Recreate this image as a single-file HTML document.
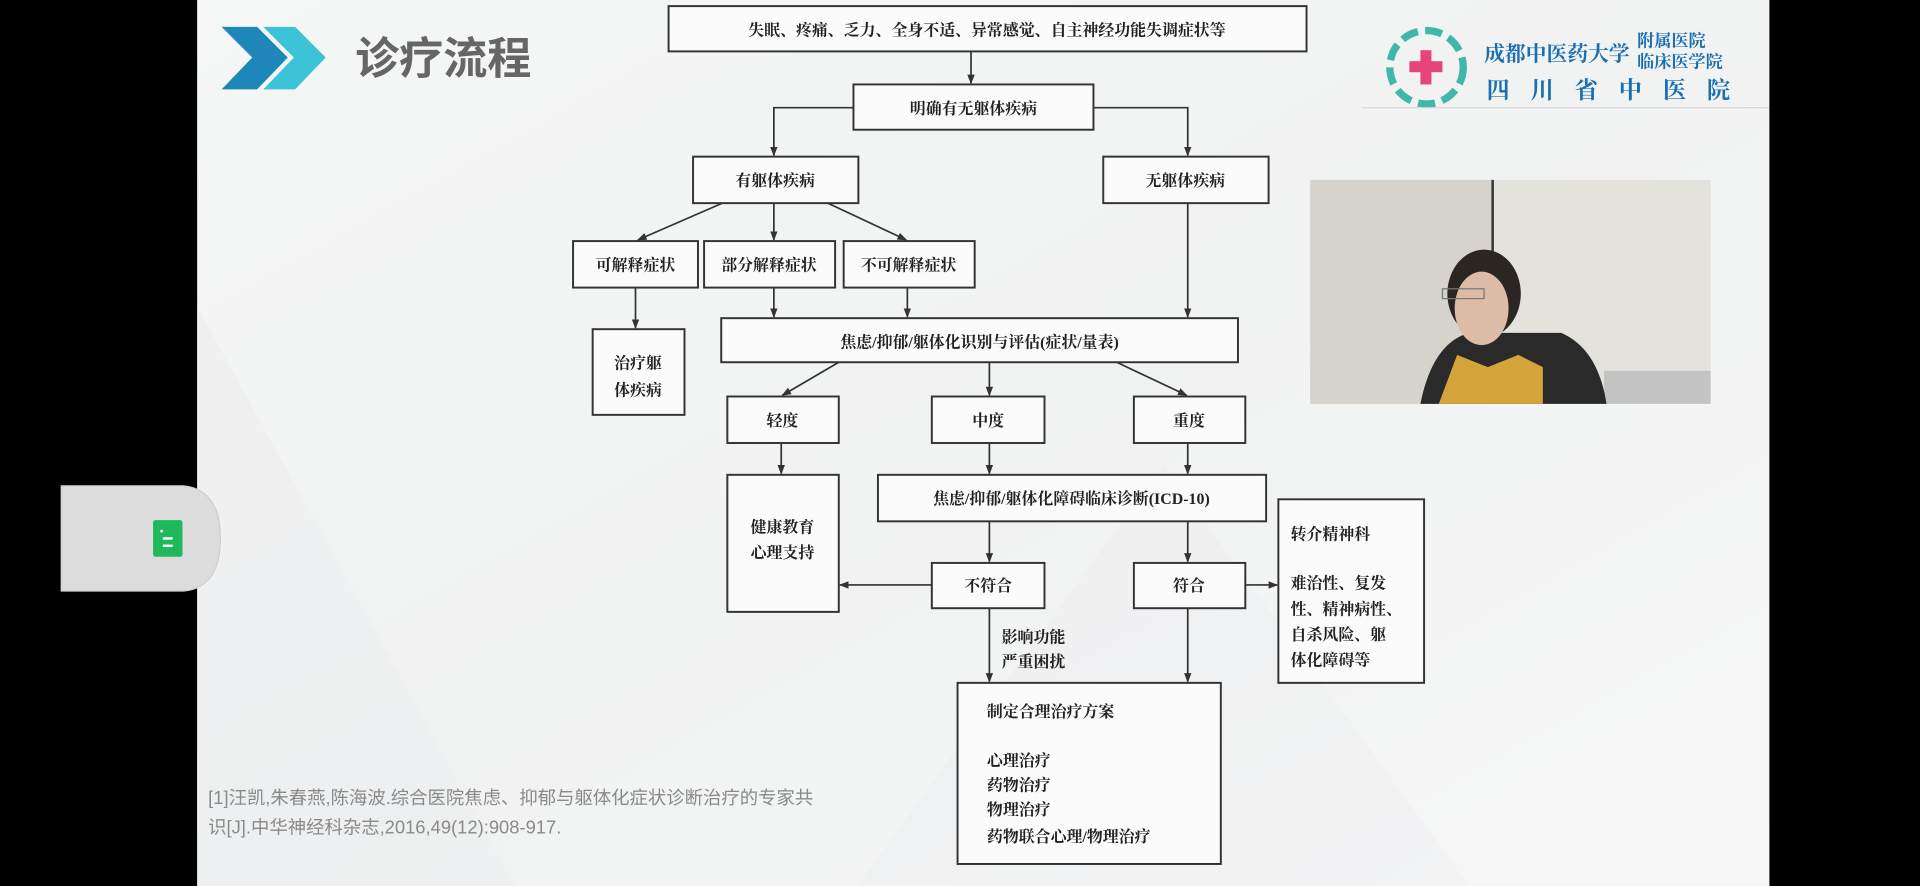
<!DOCTYPE html>
<html><head><meta charset="utf-8"><style>
html,body{margin:0;padding:0;background:#000;}
svg{display:block;}
text{font-family:"Liberation Serif","Noto Serif CJK SC",serif;font-weight:bold;fill:#222;font-size:13px;}
.b{fill:#fbfbfb;stroke:#333;stroke-width:1.6;}
.l{stroke:#333;stroke-width:1.4;fill:none;marker-end:url(#a);}
</style></head><body>
<svg width="1920" height="886" viewBox="0 0 1568 724" preserveAspectRatio="none">
<defs>
<marker id="a" markerWidth="8" markerHeight="8" refX="7" refY="4" orient="auto" markerUnits="userSpaceOnUse"><path d="M0,1 L8,4 L0,7 z" fill="#333"/></marker>
<linearGradient id="bg" x1="0" y1="0" x2="1" y2="1"><stop offset="0" stop-color="#f5f6f6"/><stop offset="0.5" stop-color="#f1f2f2"/><stop offset="1" stop-color="#f7f7f7"/></linearGradient>
</defs>
<rect x="0" y="0" width="1568" height="724" fill="#000"/>
<rect x="161" y="0" width="1284" height="724" fill="url(#bg)"/>
<polygon points="161,250 420,724 161,724" fill="#ebeced" opacity="0.4"/>
<polygon points="700,724 950,380 1200,724" fill="#ebeced" opacity="0.3"/>
<!-- side tab -->
<path d="M50,397 H150 Q180,400 180,440 Q180,480 150,483 H50 Z" fill="#dcdcdc" stroke="#cfcfcf"/>
<rect x="125" y="425" width="24" height="30" rx="2" fill="#1fb85a"/>
<rect x="131" y="433" width="2" height="2" fill="#fff"/><rect x="133" y="439" width="8" height="2" fill="#fff"/><rect x="133" y="445" width="8" height="2" fill="#fff"/>
<!-- title -->
<polygon points="181,22 210,22 235,47 210,73 181,73 206,47" fill="#1e86b8"/>
<polygon points="215,22 241,22 266,47 241,73 215,73 240,47" fill="#3cc3d8"/>
<text x="290" y="60" style="font-family:'Liberation Sans','Noto Sans CJK SC',sans-serif;font-size:36px;fill:#666;">诊疗流程</text>
<!-- logo -->
<circle cx="1165" cy="55" r="30" fill="none" stroke="#3fb8a8" stroke-width="6" stroke-dasharray="14 6"/>
<rect x="1160" y="41" width="9" height="28" fill="#e8447c"/><rect x="1151" y="50" width="27" height="9" fill="#e8447c"/>
<text x="1212" y="50" style="font-size:17px;fill:#1a6fb0;">成都中医药大学</text>
<text x="1337" y="38" style="font-size:14px;fill:#1a6fb0;">附属医院</text>
<text x="1337" y="55" style="font-size:14px;fill:#1a6fb0;">临床医学院</text>
<text x="1214" y="80" style="font-size:19px;fill:#1a6fb0;letter-spacing:17px;">四川省中医院</text>
<line x1="1112" y1="88" x2="1445" y2="88" stroke="#d4d6d8"/>
<!-- video -->
<rect x="1070" y="147" width="327" height="183" fill="#e4e2dd"/>
<rect x="1070" y="147" width="150" height="183" fill="#d6d3cd"/>
<line x1="1219" y1="147" x2="1219" y2="330" stroke="#333" stroke-width="2"/>
<rect x="1310" y="303" width="87" height="27" fill="#c4c4c4"/>
<path d="M1160,330 Q1170,280 1200,272 L1275,272 Q1305,285 1312,330 Z" fill="#2a2a2a"/>
<path d="M1175,330 L1190,290 L1215,300 L1240,290 L1260,300 L1260,330 Z" fill="#d4a43a"/>
<ellipse cx="1212" cy="240" rx="30" ry="36" fill="#2b2622"/>
<ellipse cx="1210" cy="252" rx="22" ry="30" fill="#dcbca6"/>
<rect x="1178" y="236" width="34" height="8" fill="none" stroke="#777" stroke-width="1"/>
<!-- flowchart lines -->
<line class="l" x1="793" y1="42" x2="793" y2="68"/>
<polyline class="l" points="697,88 632,88 632,127"/>
<polyline class="l" points="893,88 970,88 970,127"/>
<line class="l" x1="590" y1="166" x2="521" y2="196"/>
<line class="l" x1="632" y1="166" x2="632" y2="196"/>
<line class="l" x1="676" y1="166" x2="740" y2="196"/>
<line class="l" x1="519" y1="235" x2="519" y2="268"/>
<line class="l" x1="632" y1="235" x2="632" y2="259"/>
<line class="l" x1="741" y1="235" x2="741" y2="259"/>
<line class="l" x1="970" y1="166" x2="970" y2="259"/>
<line class="l" x1="685" y1="296" x2="639" y2="323"/>
<line class="l" x1="808" y1="296" x2="808" y2="323"/>
<line class="l" x1="912" y1="296" x2="969" y2="323"/>
<line class="l" x1="638" y1="362" x2="638" y2="387"/>
<line class="l" x1="808" y1="362" x2="808" y2="387"/>
<line class="l" x1="970" y1="362" x2="970" y2="387"/>
<line class="l" x1="808" y1="426" x2="808" y2="459"/>
<line class="l" x1="970" y1="426" x2="970" y2="459"/>
<line class="l" x1="761" y1="478" x2="686" y2="478"/>
<line class="l" x1="1017" y1="478" x2="1043" y2="478"/>
<line class="l" x1="808" y1="497" x2="808" y2="557"/>
<line class="l" x1="970" y1="497" x2="970" y2="557"/>
<!-- boxes -->
<rect class="b" x="546" y="5" width="521" height="37"/>
<text x="806" y="29" text-anchor="middle">失眠、疼痛、乏力、全身不适、异常感觉、自主神经功能失调症状等</text>
<rect class="b" x="697" y="69" width="196" height="37"/>
<text x="795" y="93" text-anchor="middle">明确有无躯体疾病</text>
<rect class="b" x="566" y="128" width="135" height="38"/>
<text x="633" y="152" text-anchor="middle">有躯体疾病</text>
<rect class="b" x="901" y="128" width="135" height="38"/>
<text x="968" y="152" text-anchor="middle">无躯体疾病</text>
<rect class="b" x="468" y="197" width="102" height="38"/>
<text x="519" y="221" text-anchor="middle">可解释症状</text>
<rect class="b" x="575" y="197" width="107" height="38"/>
<text x="628" y="221" text-anchor="middle">部分解释症状</text>
<rect class="b" x="689" y="197" width="107" height="38"/>
<text x="742" y="221" text-anchor="middle">不可解释症状</text>
<rect class="b" x="484" y="269" width="75" height="70"/>
<text x="521" y="301" text-anchor="middle">治疗躯</text>
<text x="521" y="323" text-anchor="middle">体疾病</text>
<rect class="b" x="589" y="260" width="422" height="36"/>
<text x="800" y="284" text-anchor="middle">焦虑/抑郁/躯体化识别与评估(症状/量表)</text>
<rect class="b" x="594" y="324" width="91" height="38"/>
<text x="639" y="348" text-anchor="middle">轻度</text>
<rect class="b" x="761" y="324" width="92" height="38"/>
<text x="807" y="348" text-anchor="middle">中度</text>
<rect class="b" x="926" y="324" width="91" height="38"/>
<text x="971" y="348" text-anchor="middle">重度</text>
<rect class="b" x="594" y="388" width="91" height="112"/>
<text x="639" y="435" text-anchor="middle">健康教育</text>
<text x="639" y="456" text-anchor="middle">心理支持</text>
<rect class="b" x="717" y="388" width="317" height="38"/>
<text x="875" y="412" text-anchor="middle">焦虑/抑郁/躯体化障碍临床诊断(ICD-10)</text>
<rect class="b" x="1044" y="408" width="119" height="150"/>
<text x="1054" y="441">转介精神科</text>
<text x="1054" y="481">难治性、复发</text>
<text x="1054" y="502">性、精神病性、</text>
<text x="1054" y="523">自杀风险、躯</text>
<text x="1054" y="544">体化障碍等</text>
<rect class="b" x="761" y="460" width="92" height="37"/>
<text x="807" y="483" text-anchor="middle">不符合</text>
<rect class="b" x="926" y="460" width="91" height="37"/>
<text x="971" y="483" text-anchor="middle">符合</text>
<text x="818" y="525">影响功能</text>
<text x="818" y="545">严重困扰</text>
<rect class="b" x="782" y="558" width="215" height="148"/>
<text x="806" y="586">制定合理治疗方案</text>
<text x="806" y="626">心理治疗</text>
<text x="806" y="646">药物治疗</text>
<text x="806" y="666">物理治疗</text>
<text x="806" y="688">药物联合心理/物理治疗</text>
<text x="170" y="657" style="font-family:'Liberation Sans','Noto Sans CJK SC',sans-serif;font-weight:normal;font-size:15px;fill:#8a8a8a;">[1]汪凯,朱春燕,陈海波.综合医院焦虑、抑郁与躯体化症状诊断治疗的专家共</text>
<text x="170" y="681" style="font-family:'Liberation Sans','Noto Sans CJK SC',sans-serif;font-weight:normal;font-size:15px;fill:#8a8a8a;">识[J].中华神经科杂志,2016,49(12):908-917.</text>
</svg>
</body></html>
